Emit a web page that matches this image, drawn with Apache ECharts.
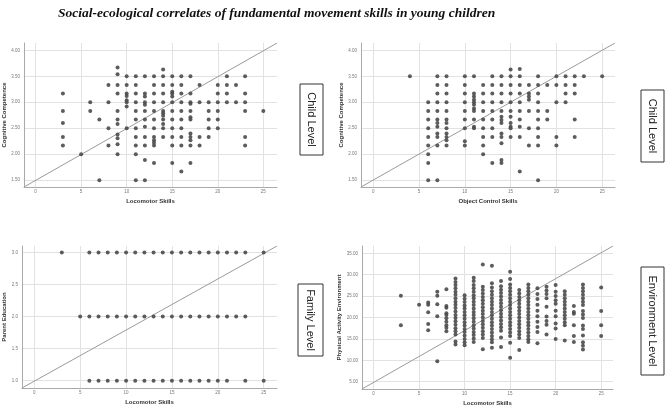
<!DOCTYPE html>
<html><head><meta charset="utf-8">
<script src="https://cdn.jsdelivr.net/npm/echarts@6/dist/echarts.min.js"></script>
<style>html,body{margin:0;padding:0;background:#fff}#c{width:666px;height:408px}</style>
</head><body><div id="c"></div>
<script>
const titleText = 'Social-ecological correlates of fundamental movement skills in young children';
const xTicks = [0, 5, 10, 15, 20, 25];
const cogTicks = [1.5, 2, 2.5, 3, 3.5, 4];
const eduTicks = [1, 1.5, 2, 2.5, 3];
const envTicks = [5, 10, 15, 20, 25, 30, 35];
const levelLabels = ['Child Level', 'Child Level', 'Family Level', 'Environment Level'];

// Panel 1: Locomotor Skills vs Cognitive Competence
const p1X = [3,5,6,7,8,9,10,11,12,13,14,15,16,17,18,19,20,21,22,23,25];
const p1Y = [
  [3.17,2.83,2.6,2.33,2.17],
  [2.0],
  [3.0,2.83],
  [2.67,1.5],
  [3.33,3.0,2.5,2.17],
  [3.67,3.54,3.33,3.17,2.83,2.67,2.58,2.38,2.31,2.19,2.0],
  [3.5,3.33,3.17,3.12,3.04,3.0,2.92,2.5],
  [3.5,3.33,3.17,3.0,2.83,2.67,2.5,2.33,2.17,2.0,1.5],
  [3.5,3.17,3.11,3.0,2.95,2.83,2.67,2.53,2.33,2.17,1.89,1.5],
  [3.5,3.33,3.17,3.0,2.83,2.67,2.5,2.33,2.27,2.22,2.17,1.83],
  [3.63,3.5,3.33,3.17,3.0,2.83,2.79,2.74,2.67,2.58,2.5,2.33],
  [3.5,3.33,3.2,3.17,3.11,3.0,2.83,2.67,2.5,2.33,2.17,1.83],
  [3.5,3.33,3.17,3.0,2.83,2.67,2.5,2.33,2.17,1.67],
  [3.5,3.17,3.0,2.97,2.83,2.71,2.67,2.4,2.33,2.27,2.17,1.83],
  [3.33,3.0,2.33,2.17],
  [3.0,2.83,2.67,2.5,2.33],
  [3.33,3.17,3.0,2.83,2.67,2.5],
  [3.5,3.33,3.17,3.0],
  [3.33,3.0],
  [3.5,3.17,3.0,2.83,2.33,2.17],
  [2.83]
];

// Panel 2: Object Control Skills vs Cognitive Competence
const p2X = [4,6,7,8,10,11,12,13,14,15,16,17,18,19,20,21,22,23,25];
const p2Y = [
  [3.5],
  [3.0,2.83,2.67,2.5,2.33,2.17,2.0,1.83,1.5],
  [3.5,3.33,3.17,3.0,2.83,2.67,2.6,2.53,2.4,2.33,2.17,1.5],
  [3.5,3.33,3.17,3.0,2.83,2.67,2.6,2.5,2.4,2.33,2.27,2.17],
  [3.5,3.33,3.17,3.0,2.83,2.67,2.5,2.25,2.17],
  [3.5,3.17,3.11,3.05,3.0,2.95,2.88,2.83,2.67,2.53,2.5],
  [3.33,3.17,3.0,2.83,2.67,2.5,2.33,2.17,2.0],
  [3.5,3.33,3.17,3.0,2.83,2.67,2.5,2.33,1.83],
  [3.5,3.33,3.17,3.0,2.83,2.72,2.66,2.6,2.4,2.33,2.21,1.89,1.83],
  [3.63,3.5,3.33,3.17,3.0,2.83,2.72,2.6,2.53,2.5,2.33],
  [3.64,3.5,3.33,3.17,3.0,2.83,2.67,2.53,2.33,1.67],
  [3.33,3.17,3.11,3.05,2.83,2.5,2.17],
  [3.5,3.33,3.17,3.0,2.83,2.67,2.5,2.33,2.17,1.5],
  [3.33,2.83,2.67],
  [3.5,3.33,3.0,2.33,2.17],
  [3.5,3.33,3.17,3.0],
  [3.5,3.33,3.17,2.67,2.33],
  [3.5],
  [3.5]
];

// Panel 3: Locomotor Skills vs Parent Education (rows)
const p3Rows = [3, 2, 1];
const p3X = [
  [3,6,7,8,9,10,11,12,13,14,15,16,17,18,19,20,21,22,23,25],
  [5,6,7,8,9,10,11,12,13,14,15,16,17,18,19,20,21,22,23],
  [6,7,8,9,10,11,12,13,14,15,16,17,18,19,20,21,23,25]
];

// Panel 4: Locomotor Skills vs Physical Activity Environment
const p4X = [3,5,6,7,8,9,10,11,12,13,14,15,16,17,18,19,20,21,22,23,25];
const p4Y = [
  [25.1,18.2],
  [23.0],
  [23.5,23.0,21.2,18.5,17.0],
  [26.0,25.1,23.1,20.3,9.8],
  [26.6,22.7,22.3,21.0,20.6,19.8,19.0,18.2,17.6,16.8],
  [29.1,28.3,27.6,26.8,26.0,25.3,24.5,23.7,23.0,22.2,21.4,20.6,19.9,19.1,18.3,17.5,16.8,16.0,14.4,13.7],
  [25.2,24.4,23.6,22.8,22.1,21.3,20.5,19.7,18.9,18.1,17.3,16.6,15.8,15.0,14.2,13.5],
  [29.3,28.5,27.6,26.8,26.0,25.2,24.5,23.7,22.9,22.1,21.3,20.6,19.8,19.0,18.2,17.4,16.6,15.9,15.1,14.3],
  [32.4,27.2,26.4,25.6,24.8,24.0,23.2,22.4,21.6,20.8,20.0,19.2,18.4,17.6,16.8,16.0,15.2,12.6],
  [32.1,28.0,27.0,26.1,25.3,24.5,23.7,22.9,22.1,21.3,20.5,19.7,18.9,18.1,17.3,16.5,15.7,14.9,14.2,12.9],
  [28.5,27.3,26.5,25.7,24.9,24.1,23.3,22.5,21.7,20.9,20.1,19.3,18.5,17.7,16.9,15.3,13.1],
  [30.7,29.0,27.7,26.9,26.1,25.3,24.5,23.7,22.9,22.1,21.3,20.5,19.7,18.9,18.1,17.3,16.5,15.7,14.1,10.6],
  [26.4,25.6,24.8,24.0,23.2,22.4,21.6,20.8,20.0,19.2,18.4,17.6,16.8,16.0,15.2,12.4],
  [27.7,26.9,26.1,25.3,24.5,23.7,22.9,22.1,21.3,20.5,19.7,18.9,18.1,17.3,16.5,15.7,14.9,14.3],
  [26.8,25.5,24.3,23.0,21.6,20.3,19.0,17.8,16.6,14.0],
  [27.2,26.3,25.5,24.5,22.5,20.2,19.2,18.3,16.0],
  [27.6,26.0,25.0,24.0,23.2,21.6,20.3,18.6,17.4,15.0],
  [26.1,25.3,24.5,23.7,22.9,22.1,21.3,20.5,19.7,18.9,18.2,14.6],
  [22.7,21.3,20.9,18.2,15.7,14.3],
  [27.7,26.9,26.1,25.3,24.5,23.7,22.9,21.5,20.7,19.9,18.1,17.3,15.8,14.2,13.4,12.5],
  [27.0,21.5,18.2,15.7]
];

// axis extents (value ranges of each plot frame)
const xRanges = [[-1.27, 26.5], [-1.34, 26.4], [-1.34, 26.45], [-1.27, 26.3]];
const yRanges = [[1.37, 4.14], [1.37, 4.14], [0.886, 3.10], [3.29, 36.7]];
const xNames = ['Locomotor Skills', 'Object Control Skills', 'Locomotor Skills', 'Locomotor Skills'];
const yNames = ['Cognitive Competence', 'Cognitive Competence', 'Parent Education', 'Physical Activity Environment'];

function colsToPts(xs, ys) {
  const out = [];
  xs.forEach((x, i) => ys[i].forEach(y => out.push([x, y])));
  return out;
}
const pts1 = colsToPts(p1X, p1Y);
const pts2 = colsToPts(p2X, p2Y);
const pts3 = [];
p3Rows.forEach((r, i) => p3X[i].forEach(x => pts3.push([x, r])));
const pts4 = colsToPts(p4X, p4Y);
const allPts = [pts1, pts2, pts3, pts4];

const yTickSets = [cogTicks, cogTicks, eduTicks, envTicks];
const yDigits = [2, 2, 1, 2];
const yGaps = [17, 17, 15, 18];

const grids = [
  {left: 23, top: 43, width: 254, height: 144},
  {left: 361, top: 43, width: 254, height: 144},
  {left: 20, top: 246, width: 257, height: 142},
  {left: 362, top: 246, width: 251, height: 143}
];

const gridLine = {show: true, lineStyle: {color: '#e2e2e2', width: 1}};
const xAxes = [], yAxes = [], series = [];
for (let i = 0; i < 4; i++) {
  xAxes.push({
    gridIndex: i, type: 'value', min: xRanges[i][0], max: xRanges[i][1],
    name: xNames[i], nameLocation: 'middle', nameGap: 11,
    nameTextStyle: {fontSize: 6, fontWeight: 'bold', color: '#333', fontFamily: 'Liberation Sans'},
    axisLine: {show: true, onZero: false, lineStyle: {color: '#aaa'}},
    axisTick: {show: false, customValues: xTicks},
    axisLabel: {customValues: xTicks, fontSize: 4.5, color: '#777', margin: 2, fontFamily: 'Liberation Sans'},
    splitLine: gridLine
  });
  yAxes.push({
    gridIndex: i, type: 'value', min: yRanges[i][0], max: yRanges[i][1],
    name: yNames[i], nameLocation: 'middle', nameGap: yGaps[i], nameRotate: 90,
    nameTextStyle: {fontSize: 6, fontWeight: 'bold', color: '#333', fontFamily: 'Liberation Sans'},
    axisLine: {show: true, onZero: false, lineStyle: {color: '#aaa'}},
    axisTick: {show: false, customValues: yTickSets[i]},
    axisLabel: {customValues: yTickSets[i], fontSize: 4.5, color: '#777', margin: 4,
      fontFamily: 'Liberation Sans', formatter: (v) => Number(v).toFixed(yDigits[i])},
    splitLine: gridLine
  });
  series.push({
    type: 'line', xAxisIndex: i, yAxisIndex: i, silent: true, symbol: 'none',
    data: [[xRanges[i][0], yRanges[i][0]], [xRanges[i][1], yRanges[i][1]]],
    lineStyle: {color: '#9a9a9a', width: 1}, z: 1
  });
  series.push({
    type: 'scatter', xAxisIndex: i, yAxisIndex: i, data: allPts[i],
    symbolSize: 4, itemStyle: {color: '#4a4a4a', opacity: 0.9}, z: 3
  });
}

const boxes = [
  {x: 300, y: 84, w: 23, h: 71},
  {x: 641, y: 90, w: 23, h: 72},
  {x: 298, y: 284, w: 25, h: 72},
  {x: 641, y: 267, w: 23, h: 108}
];
const graphic = [];
boxes.forEach((b, i) => {
  graphic.push({type: 'rect', shape: {x: b.x, y: b.y, width: b.w, height: b.h},
    style: {fill: '#fff', stroke: '#333', lineWidth: 1}});
  graphic.push({type: 'text', x: b.x + b.w / 2, y: b.y + b.h / 2, rotation: -Math.PI / 2,
    style: {text: levelLabels[i], fontSize: 11, fontFamily: 'Liberation Sans', fill: '#222',
      align: 'center', verticalAlign: 'middle'}});
});

const chart = echarts.init(document.getElementById('c'), null, {renderer: 'canvas'});
chart.setOption({
  animation: false,
  backgroundColor: '#fff',
  title: {text: titleText, left: 53, top: 2,
    textStyle: {fontFamily: 'Liberation Serif', fontStyle: 'italic', fontWeight: 'bold', fontSize: 13.5, color: '#111'}},
  grid: grids,
  xAxis: xAxes,
  yAxis: yAxes,
  series: series,
  graphic: graphic
});
</script></body></html>
